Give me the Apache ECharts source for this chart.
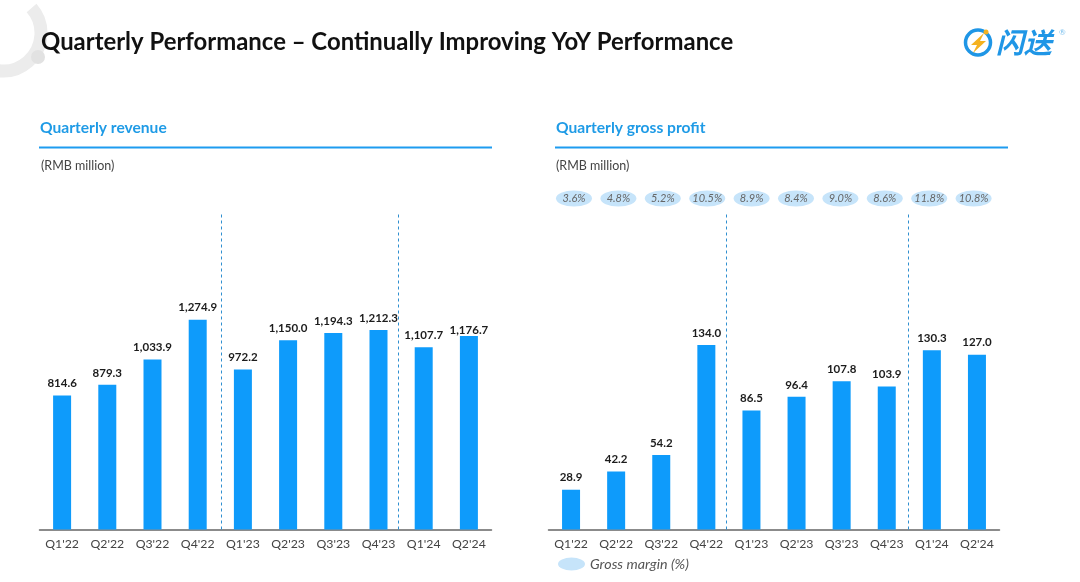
<!DOCTYPE html>
<html>
<head>
<meta charset="utf-8">
<style>html,body{margin:0;padding:0;background:#fff}#main{width:1080px;height:582px}</style>
<script src="https://cdn.jsdelivr.net/npm/echarts@6/dist/echarts.min.js"></script>
</head>
<body>
<div id="main"></div>
<script>
const quarters = ["Q1'22","Q2'22","Q3'22","Q4'22","Q1'23","Q2'23","Q3'23","Q4'23","Q1'24","Q2'24"];
const revenue = [814.6,879.3,1033.9,1274.9,972.2,1150.0,1194.3,1212.3,1107.7,1176.7];
const grossProfit = [28.9,42.2,54.2,134.0,86.5,96.4,107.8,103.9,130.3,127.0];
const grossMargin = [3.6,4.8,5.2,10.5,8.9,8.4,9.0,8.6,11.8,10.8];
const revenueDividers = [4.01,7.94];
const profitDividers = [3.94,7.97];

const font = 'Lato';
const blue = '#0e9bfb';
const fmt = v => v.toLocaleString('en-US',{minimumFractionDigits:1,maximumFractionDigits:1});

function catAxis(gridIndex, show){
  return {
    type:'category', gridIndex, data:quarters, show,
    axisTick:{show:false},
    axisLine:{lineStyle:{color:'#666',width:1.5}},
    axisLabel:{color:'#444',fontSize:12.3,fontFamily:font,margin:9,interval:0}
  };
}
function dividerAxis(gridIndex){
  return {type:'value',gridIndex,min:0,max:10,show:false};
}
function dividerSeries(xAxisIndex,yAxisIndex,list){
  const lineStyle = {color:'#2f8fd0',type:[3,3],width:1};
  return {
    type:'line', xAxisIndex, yAxisIndex, data:[], silent:true,
    markLine:{
      silent:true, symbol:'none', label:{show:false}, lineStyle,
      emphasis:{disabled:true},
      data:list.map(x=>({xAxis:x,lineStyle}))
    }
  };
}
function barSeries(xAxisIndex,yAxisIndex,values){
  return {
    type:'bar', xAxisIndex, yAxisIndex, barWidth:18,
    itemStyle:{color:blue},
    label:{show:true,position:'top',distance:6,color:'#1c1c1c',fontSize:11.5,fontWeight:'bold',fontFamily:font,formatter:p=>fmt(p.value)},
    data:values
  };
}

const myChart = echarts.init(document.getElementById('main'));
myChart.setOption({
  animation:false,
  backgroundColor:'#fff',
  title:[
    {text:'Quarterly Performance – Continually Improving YoY Performance',left:36,top:25,textStyle:{color:'#111',fontSize:23.9,fontWeight:'bold',fontFamily:font}},
    {text:'Quarterly revenue',left:35,top:115,textStyle:{color:'#1f9be6',fontSize:15.6,fontWeight:'bold',fontFamily:font}},
    {text:'(RMB million)',left:36,top:154,textStyle:{color:'#444',fontSize:12.5,fontWeight:'normal',fontFamily:font}},
    {text:'Quarterly gross profit',left:551,top:115,textStyle:{color:'#1f9be6',fontSize:15.6,fontWeight:'bold',fontFamily:font}},
    {text:'(RMB million)',left:551,top:154,textStyle:{color:'#444',fontSize:12.5,fontWeight:'normal',fontFamily:font}}
  ],
  legend:{
    data:[{name:'Gross margin (%)',icon:'path://M0 50a50 50 0 1 1 100 0a50 50 0 1 1 -100 0z'}],
    left:553, top:552, itemWidth:27, itemHeight:13, itemGap:6,
    symbolKeepAspect:false,
    selectedMode:false,
    textStyle:{color:'#555',fontSize:14.3,fontStyle:'italic',fontFamily:font}
  },
  grid:[
    {left:39.5,top:213,width:452,height:316.5},
    {left:548.5,top:213,width:451,height:316.5},
    {left:551.8,top:190,width:444,height:17}
  ],
  xAxis:[
    catAxis(0,true), catAxis(1,true), catAxis(2,false),
    dividerAxis(0), dividerAxis(1)
  ],
  yAxis:[
    {type:'value',gridIndex:0,min:0,max:1924,show:false},
    {type:'value',gridIndex:1,min:0,max:230,show:false},
    {type:'value',gridIndex:2,min:0,max:1,show:false}
  ],
  series:[
    barSeries(0,0,revenue.map((v,i)=>i===9?{value:v,label:{distance:0}}:v)),
    barSeries(1,1,grossProfit),
    dividerSeries(3,0,revenueDividers),
    dividerSeries(4,1,profitDividers),
    {
      name:'Gross margin (%)', type:'scatter', xAxisIndex:2, yAxisIndex:2,
      symbol:'circle', symbolSize:[36,16],
      itemStyle:{color:'#c6e4fa',opacity:1},
      label:{show:true,position:'inside',color:'#666',fontSize:11,fontStyle:'italic',fontFamily:font,formatter:p=>grossMargin[p.dataIndex].toFixed(1)+'%'},
      data:quarters.map(q=>[q,0.5])
    }
  ],
  graphic:[
    {type:'arc',silent:true,shape:{cx:3,cy:33,r:38,startAngle:-0.72,endAngle:1.75},style:{stroke:'#ececec',lineWidth:13,fill:null}},
    {type:'circle',silent:true,shape:{cx:38,cy:57,r:7},style:{fill:'#e2e2e2'}},
    {type:'rect',silent:true,shape:{x:39,y:146.5,width:453,height:2},style:{fill:'#1e9cf0'}},
    {type:'rect',silent:true,shape:{x:555,y:146.5,width:453,height:2},style:{fill:'#1e9cf0'}},
    {type:'circle',silent:true,shape:{cx:978,cy:42.5,r:12.5},style:{fill:'none',stroke:'#1f96e6',lineWidth:3.5}},
    {type:'polygon',silent:true,shape:{points:[[984,33],[971,45],[977,45],[973,53],[986,41],[980,41]]},style:{fill:'#f5b21f'}},
    {type:'circle',silent:true,shape:{cx:986,cy:32,r:2.5},style:{fill:'#f5b21f'}},
    {type:'text',silent:true,style:{text:'闪送',x:996,y:28,fill:'#1f96e6',fontSize:28,fontWeight:'bold',fontStyle:'italic',fontFamily:'Noto Sans CJK SC'}},
    {type:'text',silent:true,style:{text:'®',x:1059,y:28,fill:'#7cc0ee',fontSize:8,fontFamily:font}}
  ]
});
</script>
</body>
</html>
